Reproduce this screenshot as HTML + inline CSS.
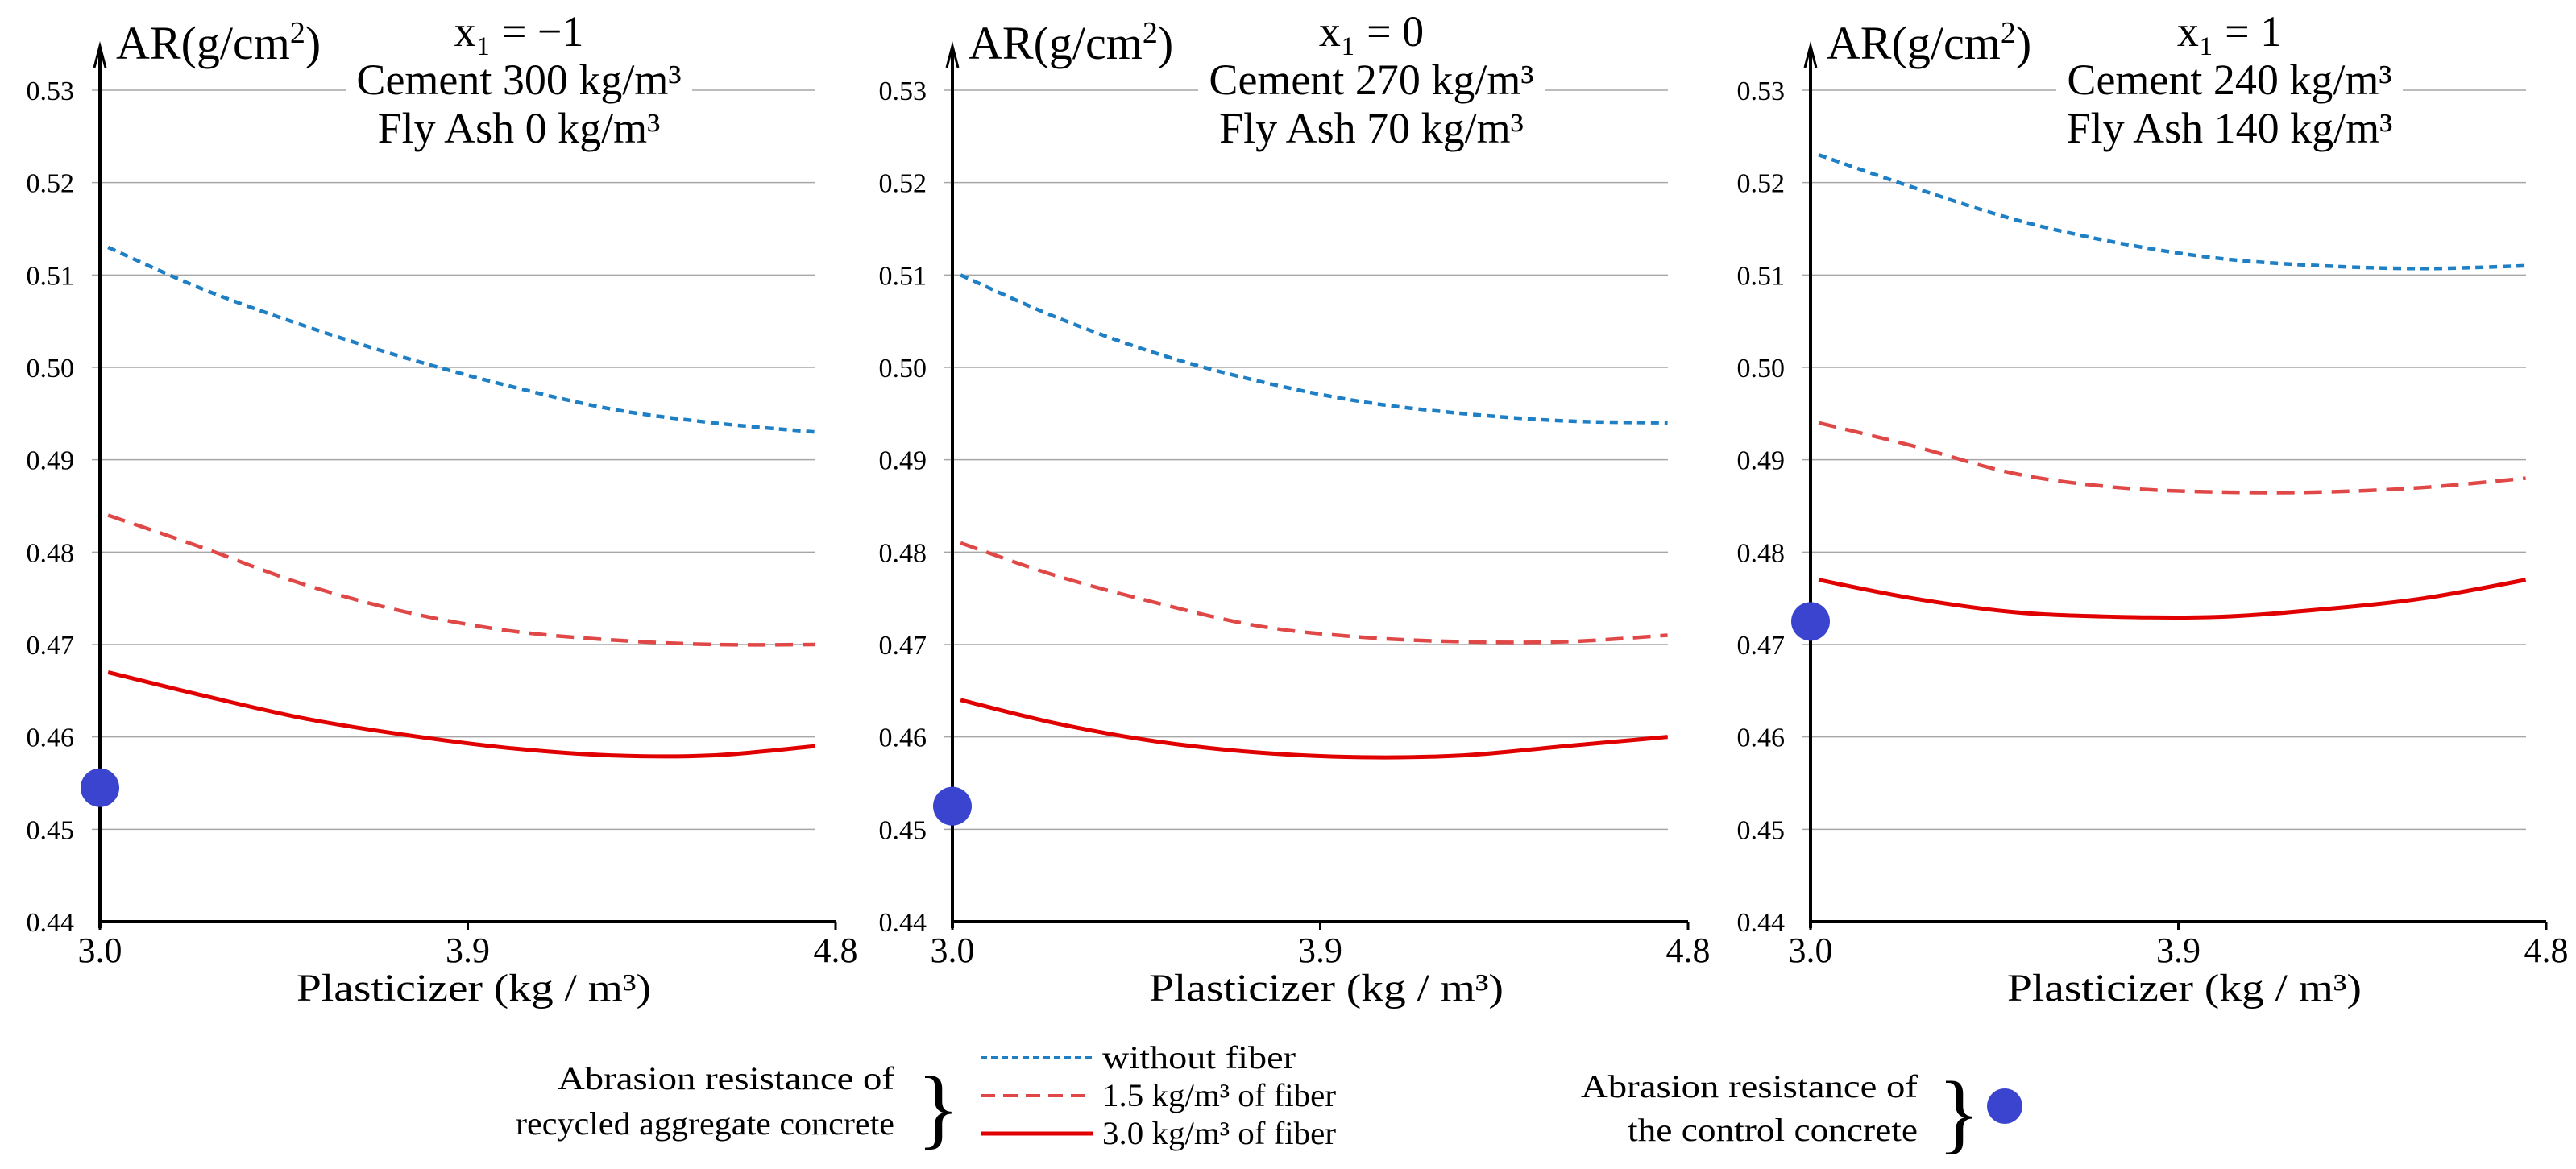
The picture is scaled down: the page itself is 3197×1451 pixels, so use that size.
<!DOCTYPE html>
<html><head><meta charset="utf-8">
<style>
html,body{margin:0;padding:0;background:#fff;}
svg{display:block;}
text{font-family:"Liberation Serif",serif;fill:#000;}
</style></head>
<body>
<svg id="chart" width="3197" height="1451" viewBox="0 0 3197 1451" xmlns="http://www.w3.org/2000/svg"></svg>
<script>
const xValues = [3.02, 3.25, 3.5, 3.75, 4.0, 4.25, 4.5, 4.75];
const yTicks = [0.44, 0.45, 0.46, 0.47, 0.48, 0.49, 0.50, 0.51, 0.52, 0.53];
const xTicks = [3.0, 3.9, 4.8];
const titlesX1 = ["x\u2081 = \u22121", "x\u2081 = 0", "x\u2081 = 1"];
const titlesCement = ["Cement 300 kg/m\u00B3", "Cement 270 kg/m\u00B3", "Cement 240 kg/m\u00B3"];
const titlesFlyAsh = ["Fly Ash 0 kg/m\u00B3", "Fly Ash 70 kg/m\u00B3", "Fly Ash 140 kg/m\u00B3"];
const noFiber = [
  [0.513, 0.5085, 0.5045, 0.501, 0.498, 0.4955, 0.494, 0.493],
  [0.510, 0.5055, 0.5015, 0.4985, 0.4963, 0.495, 0.4942, 0.494],
  [0.523, 0.5195, 0.516, 0.5135, 0.5118, 0.511, 0.5107, 0.511]
];
const fiber15 = [
  [0.484, 0.4805, 0.4765, 0.4735, 0.4715, 0.4705, 0.470, 0.470],
  [0.481, 0.4775, 0.4745, 0.472, 0.4708, 0.4703, 0.4703, 0.471],
  [0.494, 0.4915, 0.4885, 0.487, 0.4865, 0.4865, 0.487, 0.488]
];
const fiber30 = [
  [0.467, 0.4645, 0.462, 0.4602, 0.4588, 0.458, 0.458, 0.459],
  [0.464, 0.4615, 0.4595, 0.4583, 0.4578, 0.458, 0.459, 0.460],
  [0.477, 0.475, 0.4735, 0.473, 0.473, 0.4738, 0.475, 0.477]
];
const controlValues = [0.4545, 0.4525, 0.4725];

const NS = "http://www.w3.org/2000/svg";
const svg = document.getElementById("chart");
const axisLefts = [124, 1182, 2247];
const plotW = 913, yTop = 112, yBot = 1144;
function mk(tag, attrs, parent) {
  const e = document.createElementNS(NS, tag);
  for (const k in attrs) e.setAttribute(k, attrs[k]);
  (parent || svg).appendChild(e);
  return e;
}
function xs(p, v) { return axisLefts[p] + (v - 3.0) / 1.8 * plotW; }
function ys(v) { return yBot - (v - 0.44) / 0.09 * (yBot - yTop); }
function smoothPath(pts) {
  let d = "M" + pts[0][0] + "," + pts[0][1];
  for (let i = 0; i < pts.length - 1; i++) {
    const p0 = pts[i - 1] || pts[i], p1 = pts[i], p2 = pts[i + 1], p3 = pts[i + 2] || p2;
    const c1x = p1[0] + (p2[0] - p0[0]) / 6, c1y = p1[1] + (p2[1] - p0[1]) / 6;
    const c2x = p2[0] - (p3[0] - p1[0]) / 6, c2y = p2[1] - (p3[1] - p1[1]) / 6;
    d += " C" + c1x + "," + c1y + " " + c2x + "," + c2y + " " + p2[0] + "," + p2[1];
  }
  return d;
}

for (let p = 0; p < 3; p++) {
  const ax = axisLefts[p];
  const g = mk("g", {});
  
  
  yTicks.forEach(t => {
    const y = ys(t);
    if (t > 0.44) {
      const gl = mk("line", {x1: ax - 10, x2: ax + 888, y1: y, y2: y, stroke: "#a6a6a6", "stroke-width": 1.5}, g);
      
      
    }
    const tl = mk("text", {x: ax - 32, y: y + 12, "font-size": 34, "text-anchor": "end"}, g);
    tl.textContent = t.toFixed(2);
    
    
  });
  xTicks.forEach(t => {
    const x = xs(p, t);
    mk("line", {x1: x, x2: x, y1: yBot, y2: yBot + 10, stroke: "#000", "stroke-width": 3}, g);
    const tl = mk("text", {x: x, y: 1194, "font-size": 44, "text-anchor": "middle"}, g);
    tl.textContent = t.toFixed(1);
    
    
  });
  const xa = mk("line", {x1: ax, x2: ax + plotW, y1: yBot, y2: yBot, stroke: "#000", "stroke-width": 4}, g);
  
  
  const ya = mk("line", {x1: ax, x2: ax, y1: yBot + 8, y2: 62, stroke: "#000", "stroke-width": 4}, g);
  
  
  mk("path", {d: `M${ax-7},84 L${ax},57 L${ax+7},84`, fill: "none", stroke: "#000", "stroke-width": 3}, g);
  mk("rect", {x: ax + 305, y: 85, width: 430, height: 50, fill: "#fff"}, g);
  const ar = mk("text", {x: ax + 20, y: 73, "font-size": 58}, g);
  ar.innerHTML = 'AR(g/cm<tspan dy="-20" font-size="38">2</tspan><tspan dy="20">)</tspan>';
  
  
  const cx = ax + 520;
  const t1 = mk("text", {x: cx, y: 57, "font-size": 54, "text-anchor": "middle"}, g);
  t1.textContent = titlesX1[p];
  
  
  const t2 = mk("text", {x: cx, y: 117, "font-size": 54, "text-anchor": "middle"}, g);
  t2.textContent = titlesCement[p];
  
  
  const t3 = mk("text", {x: cx, y: 177, "font-size": 54, "text-anchor": "middle"}, g);
  t3.textContent = titlesFlyAsh[p];
  
  
  const xl = mk("text", {x: ax + 464, y: 1242, "font-size": 48, "text-anchor": "middle", textLength: 440, lengthAdjust: "spacingAndGlyphs"}, g);
  xl.textContent = "Plasticizer (kg / m\u00B3)";
  
  

  const series = [
    [noFiber[p], "#1f7fc4", "10,7", 4.5, 'line-without-fiber'],
    [fiber15[p], "#e04848", "22,12", 4.5, 'line-fiber-1-5'],
    [fiber30[p], "#e00000", "", 5, 'line-fiber-3-0']
  ];
  series.forEach(s => {
    const pts = s[0].map((v, i) => [xs(p, xValues[i]), ys(v)]);
    const path = mk("path", {d: smoothPath(pts), fill: "none", stroke: s[1], "stroke-width": s[3]}, g);
    if (s[2]) path.setAttribute("stroke-dasharray", s[2]);
    
    
  });
  const dot = mk("ellipse", {cx: ax, cy: ys(controlValues[p]), rx: 24, ry: 24, fill: "#3a44cf"}, g);
  
  
}

// legend
const lg = mk("g", {});


const l1 = mk("text", {x: 1110, y: 1352, "font-size": 40, "text-anchor": "end", textLength: 418, lengthAdjust: "spacingAndGlyphs"}, lg);
l1.textContent = "Abrasion resistance of";
const l2 = mk("text", {x: 1110, y: 1408, "font-size": 40, "text-anchor": "end", textLength: 470, lengthAdjust: "spacingAndGlyphs"}, lg);
l2.textContent = "recycled aggregate concrete";
mk("text", {x: 1138, y: 1412, "font-size": 110}, lg).textContent = "}";
const legItems = [["without fiber", "#1f7fc4", "8,5", 1313], ["1.5 kg/m\u00B3 of fiber", "#e04848", "18,10", 1360], ["3.0 kg/m\u00B3 of fiber", "#e00000", "", 1407]];
legItems.forEach((it, i) => {
  const ln = mk("line", {x1: 1217, x2: 1356, y1: it[3], y2: it[3], stroke: it[1], "stroke-width": it[2] ? 4 : 5}, lg);
  if (it[2]) ln.setAttribute("stroke-dasharray", it[2]);
  
  
  const tx = mk("text", {x: 1368, y: it[3] + 13, "font-size": 40, textLength: i === 0 ? 240 : 290, lengthAdjust: "spacingAndGlyphs"}, lg);
  tx.textContent = it[0];
  
  
});
const r1 = mk("text", {x: 2380, y: 1362, "font-size": 40, "text-anchor": "end", textLength: 418, lengthAdjust: "spacingAndGlyphs"}, lg);
r1.textContent = "Abrasion resistance of";
const r2 = mk("text", {x: 2380, y: 1416, "font-size": 40, "text-anchor": "end", textLength: 360, lengthAdjust: "spacingAndGlyphs"}, lg);
r2.textContent = "the control concrete";
mk("text", {x: 2405, y: 1418, "font-size": 110}, lg).textContent = "}";
const ld = mk("ellipse", {cx: 2488, cy: 1373, rx: 22, ry: 22, fill: "#3a44cf"}, lg);


</script>
</body></html>
